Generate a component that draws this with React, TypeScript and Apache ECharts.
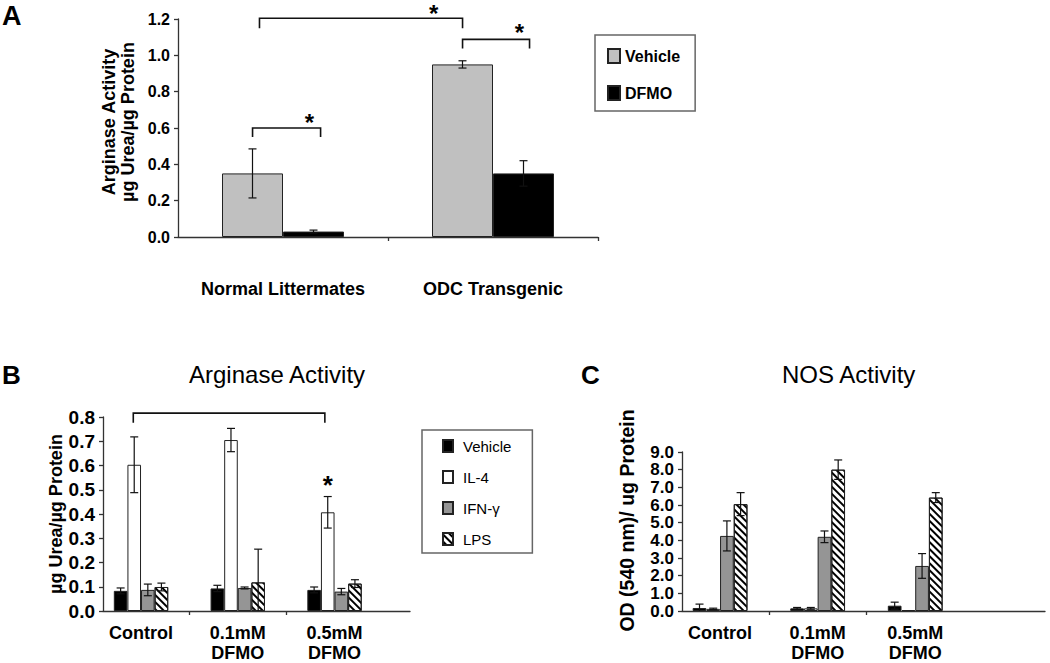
import React, { useEffect, useRef } from 'react';
import * as echarts from 'echarts';

const FONT = 'Arial, "Liberation Sans", Helvetica, sans-serif';

// ---------- Panel A ----------
const aCategories = ['Normal Littermates', 'ODC Transgenic'];
const aVehicle = [0.35, 0.95];
const aVehicleErr = [0.135, 0.02];
const aDFMO = [0.03, 0.35];
const aDFMOErr = [0.008, 0.07];
// brackets: [x1, x2, yTop, yEnd] in axis units
const aBrackets = [
  [-0.112, 0.855, 1.204, 1.149],
  [0.855, 1.174, 1.088, 1.037],
  [-0.145, 0.179, 0.6, 0.55],
];
const aStars = [
  [0.717, 1.262],
  [1.126, 1.153],
  [0.126, 0.66],
];

// ---------- Panel B (Arginase Activity) ----------
const bCategories = ['Control', '0.1mM\nDFMO', '0.5mM\nDFMO'];
const bVehicle = [0.083, 0.093, 0.087];
const bVehicleErr = [0.012, 0.013, 0.012];
const bIL4 = [0.603, 0.705, 0.407];
const bIL4Err = [0.115, 0.048, 0.065];
const bIFN = [0.087, 0.095, 0.08];
const bIFNErr = [0.024, 0.004, 0.013];
const bLPS = [0.099, 0.118, 0.113];
const bLPSErr = [0.016, 0.137, 0.016];
const bBrackets = [[-0.08, 1.9, 0.816, 0.776]];
const bStars = [[1.93, 0.545]];

// ---------- Panel C (NOS Activity) ----------
const cCategories = ['Control', '0.1mM\nDFMO', '0.5mM\nDFMO'];
const cVehicle = [0.17, 0.15, 0.3];
const cVehicleErr = [0.22, 0.05, 0.2];
const cIL4 = [0.12, 0.15, 0.05];
const cIL4Err = [0.04, 0.05, 0];
const cIFN = [4.25, 4.2, 2.55];
const cIFNErr = [0.85, 0.33, 0.7];
const cLPS = [6.05, 8.0, 6.42];
const cLPSErr = [0.65, 0.55, 0.28];

const hatch = {
  symbol: 'rect',
  symbolSize: 1,
  color: '#000',
  backgroundColor: '#fff',
  dashArrayX: [1, 0],
  dashArrayY: [1.2, 2.8],
  rotation: Math.PI / 4,
};

function bar(name: string, values: number[], idx: number, barWidth: number, itemStyle: any) {
  return {
    type: 'bar',
    name,
    xAxisIndex: idx,
    yAxisIndex: idx,
    data: values.map((v, i) => [i, v]),
    barWidth,
    barGap: '0%',
    itemStyle,
    emphasis: { disabled: true },
    z: 2,
  };
}

function errors(values: number[], errs: number[], idx: number, k: number, n: number, barWidth: number, cap: number) {
  const offset = (k - (n - 1) / 2) * barWidth;
  return {
    type: 'custom',
    xAxisIndex: idx,
    yAxisIndex: idx,
    silent: true,
    z: 5,
    encode: { x: 0, y: 1 },
    data: values.map((v, i) => [i, v, errs[i]]),
    renderItem: (_p: any, api: any) => {
      const x = api.value(0);
      const v = api.value(1);
      const e = api.value(2);
      if (!e) return { type: 'group', children: [] };
      const top = api.coord([x, v + e]);
      const bot = api.coord([x, Math.max(0, v - e)]);
      const cx = top[0] + offset;
      const style = { stroke: '#111', lineWidth: 1.2, fill: 'none' };
      const children: any[] = [
        { type: 'line', shape: { x1: cx, y1: top[1], x2: cx, y2: bot[1] }, style },
        { type: 'line', shape: { x1: cx - cap, y1: top[1], x2: cx + cap, y2: top[1] }, style },
      ];
      if (v - e > 0) {
        children.push({ type: 'line', shape: { x1: cx - cap, y1: bot[1], x2: cx + cap, y2: bot[1] }, style });
      }
      return { type: 'group', children };
    },
  };
}

function brackets(items: number[][], idx: number) {
  return {
    type: 'custom',
    xAxisIndex: idx,
    yAxisIndex: idx,
    silent: true,
    z: 6,
    encode: { x: 0, y: 2 },
    data: items,
    renderItem: (_p: any, api: any) => {
      const a = api.coord([api.value(0), api.value(2)]);
      const b = api.coord([api.value(1), api.value(2)]);
      const d = api.coord([api.value(0), api.value(3)]);
      return {
        type: 'polyline',
        shape: { points: [[a[0], d[1]], [a[0], a[1]], [b[0], b[1]], [b[0], d[1]]] },
        style: { stroke: '#111', lineWidth: 1.6, fill: 'none' },
      };
    },
  };
}

function stars(items: number[][], idx: number, size: number) {
  return {
    type: 'custom',
    xAxisIndex: idx,
    yAxisIndex: idx,
    silent: true,
    z: 6,
    encode: { x: 0, y: 1 },
    data: items,
    renderItem: (_p: any, api: any) => {
      const p = api.coord([api.value(0), api.value(1)]);
      return {
        type: 'text',
        x: p[0],
        y: p[1] + size * 0.22,
        style: {
          text: '*',
          fontSize: size,
          fontWeight: 'bold',
          fontFamily: FONT,
          fill: '#000',
          align: 'center',
          verticalAlign: 'middle',
        },
      };
    },
  };
}

function xAxis(idx: number, min: number, max: number, labels: string[], ticks: number[], margin: number, fontSize: number) {
  return {
    type: 'value',
    gridIndex: idx,
    min,
    max,
    splitLine: { show: false },
    axisLine: { show: true, onZero: false, lineStyle: { color: '#333', width: 1.3 } },
    axisTick: { show: true, customValues: ticks, length: 4, lineStyle: { color: '#333', width: 1.3 } },
    axisLabel: {
      customValues: labels.map((_, i) => i),
      formatter: (v: number) => labels[Math.round(v)] ?? '',
      margin,
      color: '#000',
      fontSize,
      fontWeight: 'bold',
      fontFamily: FONT,
      lineHeight: 20,
    },
  };
}

function yAxis(idx: number, max: number, interval: number, name: string, nameGap: number, labelSize: number, nameSize: number, namePad: number[]) {
  return {
    type: 'value',
    gridIndex: idx,
    min: 0,
    max,
    interval,
    name,
    nameLocation: 'middle',
    nameRotate: 90,
    nameGap,
    nameMoveOverlap: false,
    nameTextStyle: {
      fontSize: nameSize,
      fontWeight: 'bold',
      fontFamily: FONT,
      color: '#000',
      lineHeight: 19,
      padding: namePad,
    },
    splitLine: { show: false },
    axisLine: { show: true, onZero: false, lineStyle: { color: '#333', width: 1.3 } },
    axisTick: { show: true, length: 4, lineStyle: { color: '#333', width: 1.3 } },
    axisLabel: {
      formatter: (v: number) => v.toFixed(1),
      margin: 8,
      color: '#000',
      fontSize: labelSize,
      fontWeight: 'bold',
      fontFamily: FONT,
    },
  };
}

export default function App() {
  const ref = useRef<HTMLDivElement>(null);
  useEffect(() => {
    if (!ref.current) return;
    const chart = echarts.init(ref.current, null, { renderer: 'svg' });
    const border = { borderColor: '#222', borderWidth: 1 };
    const option: any = {
      animation: false,
      backgroundColor: '#fff',
      title: [
        { text: 'A', left: 2, top: 2, padding: 0, textStyle: { fontSize: 27, fontWeight: 'bold', fontFamily: FONT, color: '#000' } },
        { text: 'B', left: 2, top: 362, padding: 0, textStyle: { fontSize: 26, fontWeight: 'bold', fontFamily: FONT, color: '#000' } },
        { text: 'Arginase Activity', left: 189, top: 362, padding: 0, textStyle: { fontSize: 24, fontWeight: 'normal', fontFamily: FONT, color: '#000' } },
        { text: 'C', left: 581, top: 362, padding: 0, textStyle: { fontSize: 26, fontWeight: 'bold', fontFamily: FONT, color: '#000' } },
        { text: 'NOS Activity', left: 782, top: 362, padding: 0, textStyle: { fontSize: 24, fontWeight: 'normal', fontFamily: FONT, color: '#000' } },
      ],
      legend: [
        {
          left: 595, top: 35, orient: 'vertical', data: ['Vehicle', 'DFMO'], icon: 'rect',
          itemWidth: 12, itemHeight: 14, itemGap: 21, padding: [13, 15, 10, 12],
          borderColor: '#666', borderWidth: 1.5, selectedMode: false,
          textStyle: { fontSize: 16, fontWeight: 'bold', fontFamily: FONT, color: '#000', lineHeight: 16 },
        },
        {
          left: 422, top: 430, orient: 'vertical', data: ['B Vehicle', 'IL-4', 'IFN-γ', 'LPS'], icon: 'rect',
          itemWidth: 10, itemHeight: 12, itemGap: 15, padding: [8, 21, 6, 20],
          borderColor: '#666', borderWidth: 1.5, selectedMode: false,
          formatter: (n: string) => n.replace(/^B /, ''),
          textStyle: { fontSize: 15, fontFamily: FONT, color: '#000', lineHeight: 16, padding: [0, 0, 0, 5] },
        },
      ],
      grid: [
        { left: 178, top: 19, width: 420, height: 218 },
        { left: 103, top: 417, width: 307, height: 196 },
        { left: 682, top: 452, width: 363, height: 161 },
      ],
      xAxis: [
        xAxis(0, -0.5, 1.5, aCategories, [0.5, 1.5], 42, 18),
        xAxis(1, -0.393, 2.78, bCategories, [0.5, 1.5], 12, 18),
        xAxis(2, -0.39, 3.33, cCategories, [0.5, 1.5], 12, 18),
      ],
      yAxis: [
        yAxis(0, 1.2, 0.2, 'Arginase Activity\nµg Urea/µg Protein', 41, 16, 18, [0, 0, 0, 12]),
        yAxis(1, 0.8, 0.1, 'µg Urea/µg Protein', 38, 19, 18, [0, 0, 0, 0]),
        yAxis(2, 9, 1, 'OD (540 nm)/ ug Protein', 46, 17, 19.5, [0, 0, 0, 22]),
      ],
      series: [
        bar('Vehicle', aVehicle, 0, 61, { color: '#c0c0c0', ...border }),
        bar('DFMO', aDFMO, 0, 61, { color: '#000', ...border }),
        errors(aVehicle, aVehicleErr, 0, 0, 2, 61, 4),
        errors(aDFMO, aDFMOErr, 0, 1, 2, 61, 4),
        brackets(aBrackets, 0),
        stars(aStars, 0, 24),

        bar('B Vehicle', bVehicle, 1, 13.6, { color: '#000', ...border }),
        bar('IL-4', bIL4, 1, 13.6, { color: '#fff', ...border }),
        bar('IFN-γ', bIFN, 1, 13.6, { color: '#959595', ...border }),
        bar('LPS', bLPS, 1, 13.6, { color: '#fff', decal: hatch, ...border }),
        errors(bVehicle, bVehicleErr, 1, 0, 4, 13.6, 4),
        errors(bIL4, bIL4Err, 1, 1, 4, 13.6, 4),
        errors(bIFN, bIFNErr, 1, 2, 4, 13.6, 4),
        errors(bLPS, bLPSErr, 1, 3, 4, 13.6, 4),
        brackets(bBrackets, 1),
        stars(bStars, 1, 26),

        bar('C Vehicle', cVehicle, 2, 13.7, { color: '#000', ...border }),
        bar('C IL-4', cIL4, 2, 13.7, { color: '#fff', ...border }),
        bar('C IFN-γ', cIFN, 2, 13.7, { color: '#959595', ...border }),
        bar('C LPS', cLPS, 2, 13.7, { color: '#fff', decal: hatch, ...border }),
        errors(cVehicle, cVehicleErr, 2, 0, 4, 13.7, 4),
        errors(cIL4, cIL4Err, 2, 1, 4, 13.7, 4),
        errors(cIFN, cIFNErr, 2, 2, 4, 13.7, 4),
        errors(cLPS, cLPSErr, 2, 3, 4, 13.7, 4),
      ],
    };
    chart.setOption(option);
    return () => chart.dispose();
  }, []);
  return (
    <div
      ref={ref}
      style={{ position: 'fixed', left: 0, top: 0, width: 1050, height: 663, background: '#fff' }}
    />
  );
}
